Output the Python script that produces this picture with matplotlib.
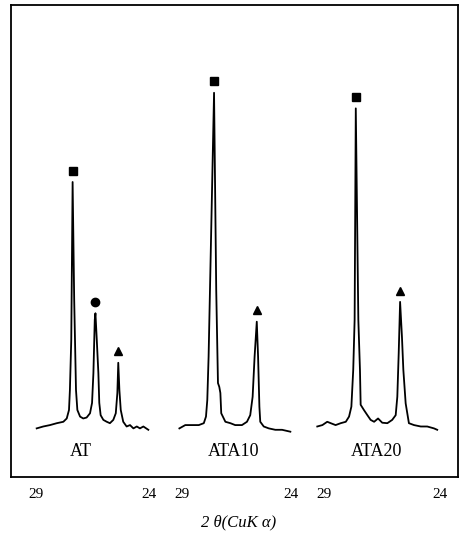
import matplotlib
matplotlib.use("Agg")
import matplotlib.pyplot as plt

# XRD traces, 2theta (deg) vs relative intensity (a.u.), hand read
at_2theta = [28.97, 28.68, 28.38, 28.08, 27.79, 27.64, 27.54, 27.50, 27.44, 27.38,
             27.31, 27.23, 27.17, 27.05, 26.91, 26.76, 26.61, 26.52, 26.46, 26.40,
             26.37, 26.31, 26.24, 26.20, 26.14, 26.02, 25.87, 25.73, 25.58, 25.47,
             25.40, 25.36, 25.31, 25.25, 25.14, 24.99, 24.84, 24.69, 24.54, 24.40,
             24.25, 24.03]
at_int = [10.3, 10.7, 11.0, 11.4, 11.7, 12.4, 14.2, 18.4, 29.0, 62.5,
          37.5, 18.4, 14.2, 12.8, 12.4, 12.6, 13.5, 15.7, 22.0, 33.3,
          34.7, 29.0, 22.0, 15.7, 13.1, 12.1, 11.7, 11.4, 12.1, 13.5,
          17.8, 24.2, 18.4, 14.2, 11.7, 10.7, 11.0, 10.3, 10.7, 10.3,
          10.7, 10.0]

ata10_2theta = [29.12, 28.85, 28.54, 28.23, 28.00, 27.90, 27.84, 27.78, 27.53, 27.43,
                27.35, 27.29, 27.24, 27.20, 27.01, 26.78, 26.56, 26.25, 26.02, 25.87,
                25.76, 25.67, 25.57, 25.51, 25.45, 25.41, 25.25, 25.02, 24.72, 24.41,
                24.03]
ata10_int = [10.3, 11.0, 11.0, 11.0, 11.4, 12.8, 16.3, 25.5, 81.4, 39.6,
             19.9, 19.1, 17.8, 13.5, 11.7, 11.4, 11.0, 11.0, 11.7, 13.1,
             17.0, 25.5, 32.9, 25.5, 14.9, 11.7, 10.7, 10.3, 10.0, 10.0,
             9.6]

ata20_2theta = [29.29, 29.07, 28.86, 28.71, 28.50, 28.28, 28.06, 27.92, 27.82, 27.74,
                27.68, 27.63, 27.52, 27.45, 27.42, 27.28, 27.13, 26.99, 26.84, 26.67,
                26.49, 26.27, 26.06, 25.91, 25.84, 25.78, 25.72, 25.64, 25.58, 25.48,
                25.34, 25.12, 24.83, 24.55, 24.26, 24.12]
ata20_int = [10.7, 11.0, 11.7, 11.4, 11.0, 11.4, 11.7, 12.8, 14.9, 22.7,
             33.3, 78.1, 33.3, 22.7, 15.3, 14.2, 13.1, 12.1, 11.7, 12.4,
             11.5, 11.4, 12.1, 13.1, 17.0, 26.2, 37.1, 29.7, 22.7, 15.6,
             11.4, 11.0, 10.7, 10.7, 10.3, 10.0]

# phase markers (2theta, intensity of peak top)
at_marks = [("s", 27.38, 62.5), ("o", 26.37, 34.7), ("^", 25.36, 24.2)]
ata10_marks = [("s", 27.53, 81.4), ("^", 25.57, 32.9)]
ata20_marks = [("s", 27.63, 78.1), ("^", 25.72, 37.1)]

names = ["AT", "ATA10", "ATA20"]
label_2theta = [27.00, 26.62, 26.72]

W, H = 463, 536
fig = plt.figure(figsize=(W / 100, H / 100), dpi=100)

def fig_box(x0, x1, y_top, y_bot):
    return [x0 / W, 1 - y_bot / H, (x1 - x0) / W, (y_bot - y_top) / H]

# outer frame
frame = fig.add_axes(fig_box(11, 458, 5, 477))
frame.set_xticks([])
frame.set_yticks([])
for s in frame.spines.values():
    s.set_linewidth(1.3)

panels = [(36, 149), (182, 291), (324, 440)]
traces = [(at_2theta, at_int), (ata10_2theta, ata10_int), (ata20_2theta, ata20_int)]
marks = [at_marks, ata10_marks, ata20_marks]

for (x0, x1), (tt, ii), mk, name, lx in zip(panels, traces, marks, names, label_2theta):
    ax = fig.add_axes(fig_box(x0, x1, 5, 477))
    ax.patch.set_visible(False)
    ax.plot(tt, ii, color="black", lw=1.3, clip_on=False)
    for m, t, i in mk:
        ax.plot(t, i + 2.4, marker=m, color="black", ms=6 if m != "^" else 5.5,
                ls="none", clip_on=False)
    ax.text(lx, 5.5, name, ha="center", va="center", fontsize=13,
            family="Liberation Serif")
    ax.set_xlim(29, 24)
    ax.set_ylim(0, 100)
    ax.set_xticks([29, 24])
    ax.set_xticklabels(["29", "24"], family="Liberation Serif", fontsize=11)
    ax.tick_params(axis="x", length=0, pad=8)
    ax.set_yticks([])
    for s in ax.spines.values():
        s.set_visible(False)

fig.text(239 / W, 1 - 522 / H, "2 θ(CuK α)", ha="center", va="center",
         fontsize=12, style="italic", family="Liberation Serif")

fig.savefig("out.png", dpi=100)
